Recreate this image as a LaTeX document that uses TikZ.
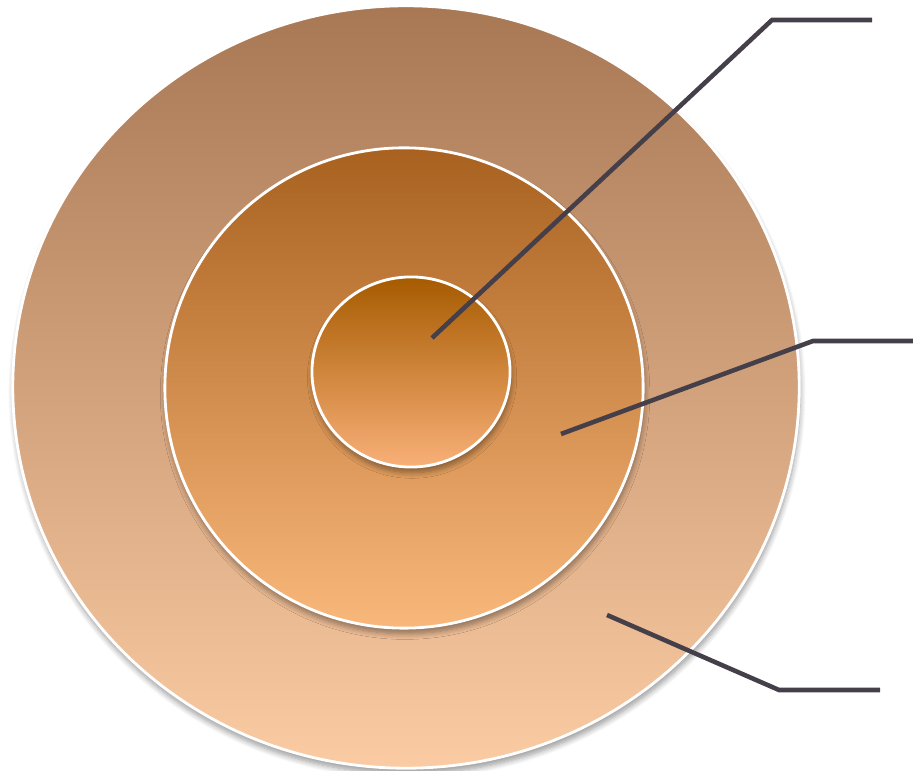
\documentclass[tikz,border=0pt]{standalone}
\usetikzlibrary{shapes.geometric,shadows.blur}
\definecolor{guiagris}{HTML}{453F4A}
\definecolor{extArriba}{HTML}{A87855}
\definecolor{extAbajo}{HTML}{FBCBA3}
\definecolor{medArriba}{HTML}{A8611F}
\definecolor{medAbajo}{HTML}{F9B87B}
\definecolor{intArriba}{HTML}{A65B00}
\definecolor{intAbajo}{HTML}{F9B078}
\tikzset{
  anillo/.style={ellipse, draw=white, line width=0.8pt, inner sep=0pt,
    blur shadow={shadow xshift=0.3pt, shadow yshift=-1.6pt, shadow blur steps=8, shadow blur radius=1.6pt, shadow opacity=40}},
  guia/.style={draw=guiagris, line width=1.3pt},
}
\begin{document}
\begin{tikzpicture}[x=0.01cm,y=-0.01cm]
        \useasboundingbox (0,0) rectangle (913,771);

        % Circulos concentricos
        \node[anillo, top color=extArriba, bottom color=extAbajo,
              minimum width=7.86cm, minimum height=7.62cm] (externo) at (406,387) {};
        \node[anillo, top color=medArriba, bottom color=medAbajo,
              minimum width=4.78cm, minimum height=4.8cm] (medio) at (404,388) {};
        \node[anillo, top color=intArriba, bottom color=intAbajo,
              minimum width=1.98cm, minimum height=1.9cm] (interno) at (411,372) {};

        % Puntos de las guias
        \coordinate (pInt) at (432,338);
        \coordinate (qInt) at (772,20);
        \coordinate (rInt) at (872,20);
        \coordinate (pMed) at (561,434);
        \coordinate (qMed) at (813,341);
        \coordinate (rMed) at (913,341);
        \coordinate (pExt) at (607,615);
        \coordinate (qExt) at (779,690);
        \coordinate (rExt) at (880,690);

        % Guias
        \draw[guia] (pInt) -- (qInt) -- (rInt);
        \draw[guia] (pMed) -- (qMed) -- (rMed);
        \draw[guia] (pExt) -- (qExt) -- (rExt);
\end{tikzpicture}
\end{document}
